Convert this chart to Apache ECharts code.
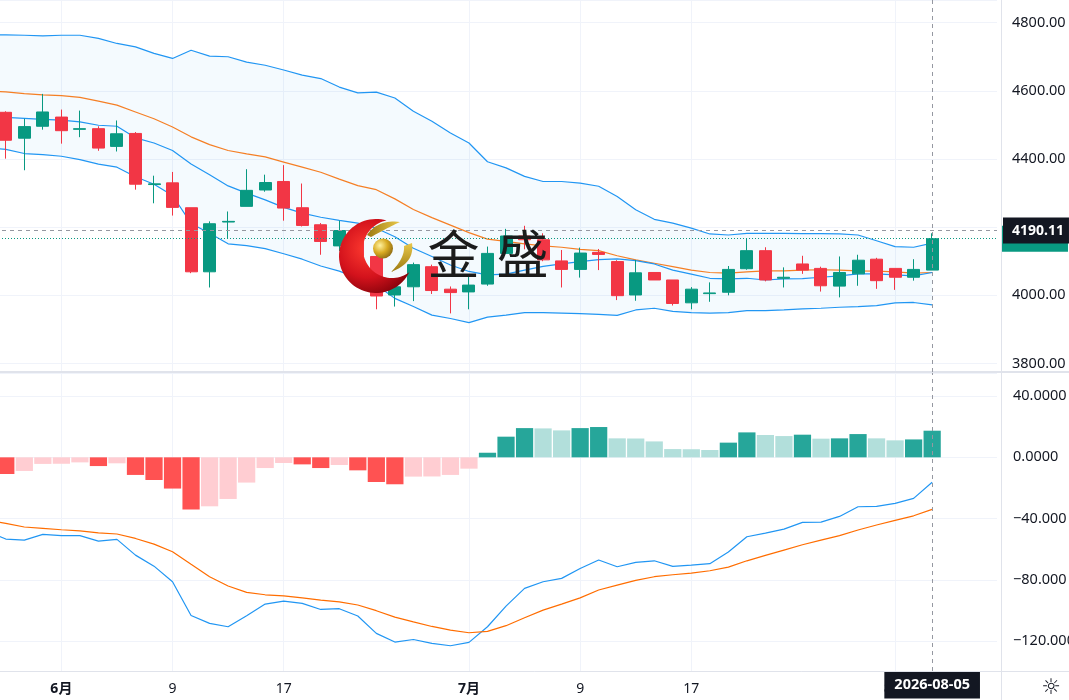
<!DOCTYPE html>
<html>
<head>
<meta charset="utf-8">
<title>金盛</title>
<script src="https://cdn.jsdelivr.net/npm/echarts@6/dist/echarts.min.js"></script>
<style>
  html, body { margin: 0; padding: 0; background: #fff; }
  #chart { width: 1069px; height: 700px; }
</style>
</head>
<body>
<div id="chart"></div>
<script>
"use strict";
// trading days; the first one is mostly off the left edge, the last three are empty room
const dates = [
  '2026-05-26', '2026-05-27', '2026-05-28', '2026-05-29',
  '2026-06-01', '2026-06-02', '2026-06-03', '2026-06-04', '2026-06-05',
  '2026-06-08', '2026-06-09', '2026-06-10', '2026-06-11', '2026-06-12',
  '2026-06-15', '2026-06-16', '2026-06-17', '2026-06-18', '2026-06-19',
  '2026-06-22', '2026-06-23', '2026-06-24', '2026-06-25', '2026-06-26',
  '2026-06-29', '2026-06-30', '2026-07-01', '2026-07-02', '2026-07-03',
  '2026-07-06', '2026-07-07', '2026-07-08', '2026-07-09', '2026-07-10',
  '2026-07-13', '2026-07-14', '2026-07-15', '2026-07-16', '2026-07-17',
  '2026-07-20', '2026-07-21', '2026-07-22', '2026-07-23', '2026-07-24',
  '2026-07-27', '2026-07-28', '2026-07-29', '2026-07-30', '2026-07-31',
  '2026-08-03', '2026-08-04', '2026-08-05',
  '2026-08-06', '2026-08-07', '2026-08-10'
];

// [open, close, low, high]
const candles = [
  [4575, 4537, 4528, 4592],
  [4537, 4455, 4401, 4540], [4461, 4495, 4367, 4518], [4496, 4538, 4486, 4591],
  [4523, 4483, 4445, 4545], [4487, 4489, 4464, 4542], [4489, 4432, 4424, 4496],
  [4437, 4474, 4422, 4513], [4475, 4326, 4310, 4479], [4325, 4327, 4270, 4351],
  [4330, 4258, 4234, 4362], [4257, 4069, 4065, 4257], [4069, 4210, 4023, 4217],
  [4215, 4217, 4168, 4246], [4261, 4308, 4261, 4370], [4309, 4331, 4304, 4354],
  [4334, 4256, 4219, 4382], [4257, 4205, 4202, 4328], [4207, 4158, 4119, 4212],
  [4145, 4190, 4130, 4219], [4188, 4116, 4102, 4200], [4114, 3998, 3959, 4118],
  [4001, 4025, 3967, 4045], [4025, 4090, 3983, 4096], [4084, 4014, 4004, 4090],
  [4018, 4008, 3947, 4026], [4010, 4030, 3959, 4055], [4033, 4123, 4028, 4143],
  [4123, 4174, 4123, 4195], [4174, 4163, 4135, 4204], [4163, 4104, 4100, 4182],
  [4101, 4076, 4023, 4133], [4076, 4124, 4052, 4140], [4126, 4120, 4074, 4136],
  [4099, 3999, 3986, 4103], [4001, 4066, 3984, 4104], [4067, 4045, 4045, 4067],
  [4045, 3976, 3970, 4045], [3978, 4018, 3959, 4024], [4005, 4007, 3981, 4038],
  [4009, 4076, 4000, 4086], [4078, 4131, 4075, 4168], [4131, 4045, 4041, 4141],
  [4050, 4053, 4023, 4082], [4092, 4074, 4063, 4116], [4079, 4028, 4011, 4084],
  [4027, 4067, 3994, 4114], [4063, 4103, 4028, 4119], [4106, 4043, 4019, 4110],
  [4079, 4053, 4016, 4079], [4053, 4076, 4043, 4106], [4074, 4166, 4074, 4182]
];

const bollUpper = [
  4765, 4764, 4763, 4761, 4763, 4763, 4754, 4739, 4729, 4710, 4695,
  4719, 4702, 4700, 4684, 4675, 4661, 4646, 4636, 4611, 4594,
  4596, 4579, 4540, 4511, 4476, 4447, 4392, 4374, 4349, 4334,
  4334, 4329, 4320, 4290, 4251, 4223, 4212, 4197, 4180, 4177,
  4182, 4182, 4182, 4181, 4181, 4180, 4177, 4160, 4143, 4141, 4153
];
const bollMid = [
  4600, 4597, 4592, 4588, 4586, 4581, 4570, 4558, 4538, 4518, 4494,
  4465, 4442, 4425, 4415, 4406, 4391, 4376, 4361, 4341, 4322,
  4310, 4283, 4252, 4228, 4206, 4184, 4165, 4158, 4151, 4145,
  4141, 4135, 4131, 4116, 4104, 4094, 4084, 4074, 4067, 4065,
  4069, 4072, 4072, 4074, 4075, 4074, 4072, 4071, 4069, 4065, 4067
];
const bollLower = [
  4433, 4428, 4416, 4413, 4408, 4398, 4385, 4376, 4348, 4326, 4293,
  4211, 4182, 4151, 4146, 4137, 4122, 4106, 4086, 4071, 4050,
  4030, 3991, 3967, 3942, 3932, 3920, 3936, 3942, 3949, 3949,
  3948, 3946, 3944, 3941, 3957, 3962, 3953, 3949, 3948, 3949,
  3955, 3955, 3957, 3960, 3962, 3965, 3967, 3970, 3978, 3979, 3972
];
const ma10 = [
  4527, 4522, 4519, 4516, 4514, 4509, 4499, 4496, 4462, 4447, 4425,
  4385, 4354, 4321, 4300, 4280, 4258, 4241, 4229, 4220, 4212,
  4197, 4172, 4138, 4114, 4089, 4070, 4060, 4062, 4074, 4085,
  4092, 4099, 4105, 4107, 4102, 4092, 4074, 4062, 4050, 4048,
  4050, 4045, 4048, 4049, 4053, 4057, 4063, 4063, 4060, 4057, 4067
];

const macdHist = [
  -7.2, -10.9, -8.9, -4.3, -4.2, -3.3, -5.7, -3.9, -11.5, -14.8, -20.4,
  -34.1, -32.0, -27.2, -16.5, -7.0, -3.7, -4.6, -7.0, -5.0, -8.5,
  -16.1, -17.6, -12.6, -12.5, -11.5, -7.4, 3.0, 13.5, 19.1, 18.9,
  17.6, 19.1, 19.8, 12.4, 12.3, 10.4, 5.4, 5.3, 4.8, 9.6,
  16.3, 14.6, 13.9, 14.8, 12.2, 12.4, 15.2, 12.4, 11.1, 11.7, 17.4
];
const macdDif = [
  -48.3, -53.4, -54.1, -50.3, -51.2, -51.2, -54.7, -53.6, -63.9, -71.1, -81.3,
  -103.3, -108.5, -110.7, -103.5, -95.9, -93.9, -95.4, -99.4, -98.9, -103.7,
  -115.0, -120.7, -119.0, -121.6, -123.1, -120.9, -110.7, -97.2, -85.6, -81.3,
  -79.1, -72.6, -67.1, -71.5, -68.6, -67.6, -71.2, -70.4, -69.5, -61.9,
  -51.9, -49.5, -46.9, -42.5, -42.3, -38.6, -32.3, -32.0, -30.1, -26.8, -16.3
];
const macdDea = [
  -41.1, -43.1, -45.5, -46.4, -47.3, -48.0, -49.3, -50.1, -53.0, -56.7, -61.7,
  -69.9, -78.0, -84.1, -88.2, -89.8, -90.5, -91.8, -93.3, -94.4, -96.5,
  -100.2, -104.4, -107.5, -110.5, -112.9, -114.6, -113.7, -110.0, -104.8, -99.8,
  -95.9, -91.8, -86.7, -83.5, -80.4, -78.0, -76.7, -75.6, -74.1, -71.7,
  -67.6, -64.1, -60.6, -57.1, -54.1, -51.2, -47.5, -44.2, -41.2, -38.2, -34.0
];

// time axis ticks (8月 sits under the crosshair label)
const tickDates = ['2026-06-01', '2026-06-09', '2026-06-17', '2026-07-01', '2026-07-09', '2026-07-17', '2026-08-03'];
const tickLabels = ['6月', '9', '17', '7月', '9', '17', '8月'];

const crossDate = '2026-08-05';
const crossPrice = 4190.11;

const FONT = '"Noto Sans", "Noto Sans CJK SC", sans-serif';
const TEXT = '#131722';
const GRIDLINE = '#f0f3fa';
const FRAME = '#e0e3eb';
const CROSS = '#9598a1';
const UP = '#089981';
const DOWN = '#f23645';
const BAND = '#2196f3';
const BASIS = '#f57f25';
const AXIS_FS = 14.5;

const lastClose = candles[candles.length - 1][1];

const isTick = (idx, val) => tickDates.indexOf(val) !== -1;

function histColor(i) {
  const v = macdHist[i];
  const prev = i > 0 ? macdHist[i - 1] : v;
  if (v >= 0) return v >= prev ? '#26a69a' : '#b2dfdb';
  return v <= prev ? '#ff5252' : '#ffcdd2';
}

// ---- watermark outline helpers (graphic component has no svg path type)
function arcPts(cx, cy, r, a0, a1, n) {
  const pts = [];
  for (let i = 0; i <= n; i++) {
    const a = (a0 + (a1 - a0) * i / n) * Math.PI / 180;
    pts.push([cx + r * Math.cos(a), cy + r * Math.sin(a)]);
  }
  return pts;
}
function quadPts(p0, c, p1, n) {
  const pts = [];
  for (let i = 0; i <= n; i++) {
    const t = i / n, u = 1 - t;
    pts.push([u * u * p0[0] + 2 * u * t * c[0] + t * t * p1[0], u * u * p0[1] + 2 * u * t * c[1] + t * t * p1[1]]);
  }
  return pts;
}
const crescent = arcPts(376, 256, 37, 286.5, 26.3, 60).concat(arcPts(392, 249, 29, 53.7, 259.1, 50));
const leafTop = quadPts([367, 235], [378, 219], [400, 222], 16).concat(quadPts([400, 222], [387, 228], [371, 237], 16));
const leafRight = quadPts([412, 243], [415, 263], [391, 272], 16).concat(quadPts([391, 272], [405, 258], [404, 246], 16));

function timeAxis(gridIndex, withLabels) {
  return {
    type: 'category',
    gridIndex: gridIndex,
    data: dates,
    boundaryGap: true,
    axisLine: { show: false },
    axisTick: { show: false },
    axisLabel: {
      show: withLabels,
      interval: isTick,
      margin: 11,
      color: TEXT,
      fontSize: 14,
      fontFamily: FONT,
      formatter: function (v) {
        const k = tickDates.indexOf(v);
        if (k < 0) return '';
        const t = tickLabels[k];
        return t.indexOf('月') >= 0 ? '{m|' + t + '}' : t;
      },
      rich: { m: { fontWeight: 'bold', fontSize: 14, color: TEXT, fontFamily: FONT } }
    },
    splitLine: { show: true, interval: isTick, alignWithLabel: true, lineStyle: { color: GRIDLINE, width: 1 } },
    axisPointer: {
      show: true,
      type: 'line',
      value: dates.indexOf(crossDate),
      status: 'show',
      triggerTooltip: false,
      lineStyle: { color: CROSS, width: 1, type: [4, 4] },
      label: {
        show: withLabels,
        margin: 1,
        backgroundColor: TEXT,
        color: '#fff',
        fontSize: AXIS_FS,
        fontWeight: 'bold',
        fontFamily: FONT,
        padding: [6, 10],
        borderRadius: 0,
        shadowBlur: 0
      }
    }
  };
}

function lineSeries(data, color, z) {
  return {
    type: 'line', xAxisIndex: 0, yAxisIndex: 0, data: data,
    symbol: 'none', silent: true, z: z || 2,
    lineStyle: { color: color, width: 1.2 }
  };
}

const option = {
  animation: false,
  backgroundColor: '#ffffff',
  textStyle: { fontFamily: FONT },
  axisPointer: { triggerOn: 'none', link: [] },
  grid: [
    { left: -22, right: 72, top: 0, height: 372, containLabel: false, outerBoundsMode: 'none' },
    { left: -22, right: 72, top: 373, height: 298, containLabel: false, outerBoundsMode: 'none' }
  ],
  xAxis: [timeAxis(0, false), timeAxis(1, true)],
  yAxis: [
    {
      type: 'value', gridIndex: 0, position: 'right',
      min: 3775, max: 4866.5, splitNumber: 5, minInterval: 200, maxInterval: 200,
      axisLine: { show: false }, axisTick: { show: false },
      axisLabel: {
        margin: 15, color: TEXT, fontSize: AXIS_FS, fontFamily: FONT,
        showMinLabel: false, showMaxLabel: false,
        formatter: v => v.toFixed(2)
      },
      splitLine: { lineStyle: { color: GRIDLINE } },
      axisPointer: {
        show: true, type: 'line', value: crossPrice, status: 'show', triggerTooltip: false,
        lineStyle: { color: CROSS, width: 1, type: [4, 4] },
        label: {
          show: true, margin: 6,
          formatter: p => Number(p.value).toFixed(2),
          backgroundColor: TEXT, color: '#fff', fontSize: 14, fontWeight: 'bold', fontFamily: FONT,
          padding: [6, 5, 6, 9], borderRadius: 0, shadowBlur: 0
        }
      }
    },
    {
      type: 'value', gridIndex: 1, position: 'right',
      min: -139.6, max: 55.1, splitNumber: 5, minInterval: 40, maxInterval: 40,
      axisLine: { show: false }, axisTick: { show: false },
      axisLabel: {
        margin: 16, color: TEXT, fontSize: AXIS_FS, fontFamily: FONT,
        showMinLabel: false, showMaxLabel: false,
        formatter: v => v >= 0 ? v.toFixed(4) : '\u2212' + Math.abs(v).toFixed(3)
      },
      splitLine: { lineStyle: { color: GRIDLINE } }
    }
  ],
  series: [
    {
      type: 'line', xAxisIndex: 0, yAxisIndex: 0, data: bollLower, stack: 'boll',
      symbol: 'none', silent: true, z: 1, lineStyle: { opacity: 0 }
    },
    {
      type: 'line', xAxisIndex: 0, yAxisIndex: 0,
      data: bollUpper.map((u, i) => u - bollLower[i]), stack: 'boll',
      symbol: 'none', silent: true, z: 1, lineStyle: { opacity: 0 },
      areaStyle: { color: 'rgba(33,150,243,0.05)', opacity: 1 }
    },
    lineSeries(bollUpper, BAND),
    lineSeries(bollLower, BAND),
    lineSeries(bollMid, BASIS),
    lineSeries(ma10, BAND),
    {
      type: 'candlestick', xAxisIndex: 0, yAxisIndex: 0, data: candles,
      barWidth: 12.5, z: 3, silent: true,
      itemStyle: { color: UP, color0: DOWN, borderColor: UP, borderColor0: DOWN, borderWidth: 1 },
      markLine: {
        silent: true, symbol: ['none', 'none'], animation: false,
        data: [{ yAxis: lastClose }],
        lineStyle: { color: UP, type: [1, 2], width: 1 },
        label: {
          show: true, position: 'end', distance: 5,
          formatter: () => lastClose.toFixed(2),
          backgroundColor: UP, color: '#fff', padding: [6, 5, 6, 9],
          fontSize: 14, fontWeight: 'bold', fontFamily: FONT
        }
      }
    },
    {
      type: 'bar', xAxisIndex: 1, yAxisIndex: 1, barWidth: '93%', silent: true,
      data: macdHist.map((v, i) => ({ value: v, itemStyle: { color: histColor(i) } }))
    },
    {
      type: 'line', xAxisIndex: 1, yAxisIndex: 1, data: macdDif,
      symbol: 'none', silent: true, z: 3, lineStyle: { color: '#2196f3', width: 1.2 }
    },
    {
      type: 'line', xAxisIndex: 1, yAxisIndex: 1, data: macdDea,
      symbol: 'none', silent: true, z: 3, lineStyle: { color: '#ff6d00', width: 1.2 }
    }
  ],
  graphic: [
    // pane frame
    { type: 'line', z: 50, silent: true, shape: { x1: 0, y1: 372, x2: 1069, y2: 372 }, style: { stroke: FRAME, lineWidth: 2 } },
    { type: 'line', z: 50, silent: true, shape: { x1: 0, y1: 671.5, x2: 1069, y2: 671.5 }, style: { stroke: FRAME, lineWidth: 1 } },
    { type: 'line', z: 50, silent: true, shape: { x1: 1001.5, y1: 0, x2: 1001.5, y2: 700 }, style: { stroke: FRAME, lineWidth: 1 } },
    // watermark logo
    {
      type: 'polygon', z: 100, silent: true,
      shape: { points: crescent },
      style: {
        fill: {
          type: 'radial', x: 0.4, y: 0.4, r: 0.75,
          colorStops: [
            { offset: 0, color: '#ff3b30' },
            { offset: 0.55, color: '#d3121c' },
            { offset: 1, color: '#7a0008' }
          ]
        }
      }
    },
    {
      type: 'polygon', z: 100, silent: true,
      shape: { points: leafTop },
      style: { fill: { type: 'linear', x: 0, y: 0, x2: 1, y2: 0, colorStops: [{ offset: 0, color: '#9c7a12' }, { offset: 1, color: '#e9c84a' }] } }
    },
    {
      type: 'polygon', z: 100, silent: true,
      shape: { points: leafRight },
      style: { fill: { type: 'linear', x: 0, y: 0, x2: 0, y2: 1, colorStops: [{ offset: 0, color: '#e9c84a' }, { offset: 1, color: '#9c7a12' }] } }
    },
    {
      type: 'circle', z: 100, silent: true,
      shape: { cx: 383, cy: 248.5, r: 10 },
      style: {
        fill: {
          type: 'radial', x: 0.35, y: 0.35, r: 0.75,
          colorStops: [
            { offset: 0, color: '#fff2a0' },
            { offset: 0.5, color: '#d8aa22' },
            { offset: 1, color: '#866412' }
          ]
        }
      }
    },
    {
      type: 'text', z: 100, silent: true, x: 453.5, y: 254,
      style: { text: '金', fontSize: 52, fontFamily: '"Noto Sans CJK SC", sans-serif', fill: '#1b1b1b', align: 'center', verticalAlign: 'middle' }
    },
    {
      type: 'text', z: 100, silent: true, x: 522.5, y: 254,
      style: { text: '盛', fontSize: 52, fontFamily: '"Noto Sans CJK SC", sans-serif', fill: '#1b1b1b', align: 'center', verticalAlign: 'middle' }
    },
    // settings icon
    {
      type: 'text', z: 50, silent: true, x: 1051, y: 688,
      style: { text: '\u263C', fontSize: 22, fontFamily: '"DejaVu Sans", sans-serif', fill: TEXT, align: 'center', verticalAlign: 'middle' }
    }
  ]
};

const myChart = echarts.init(document.getElementById('chart'));
myChart.setOption(option);
</script>
</body>
</html>
